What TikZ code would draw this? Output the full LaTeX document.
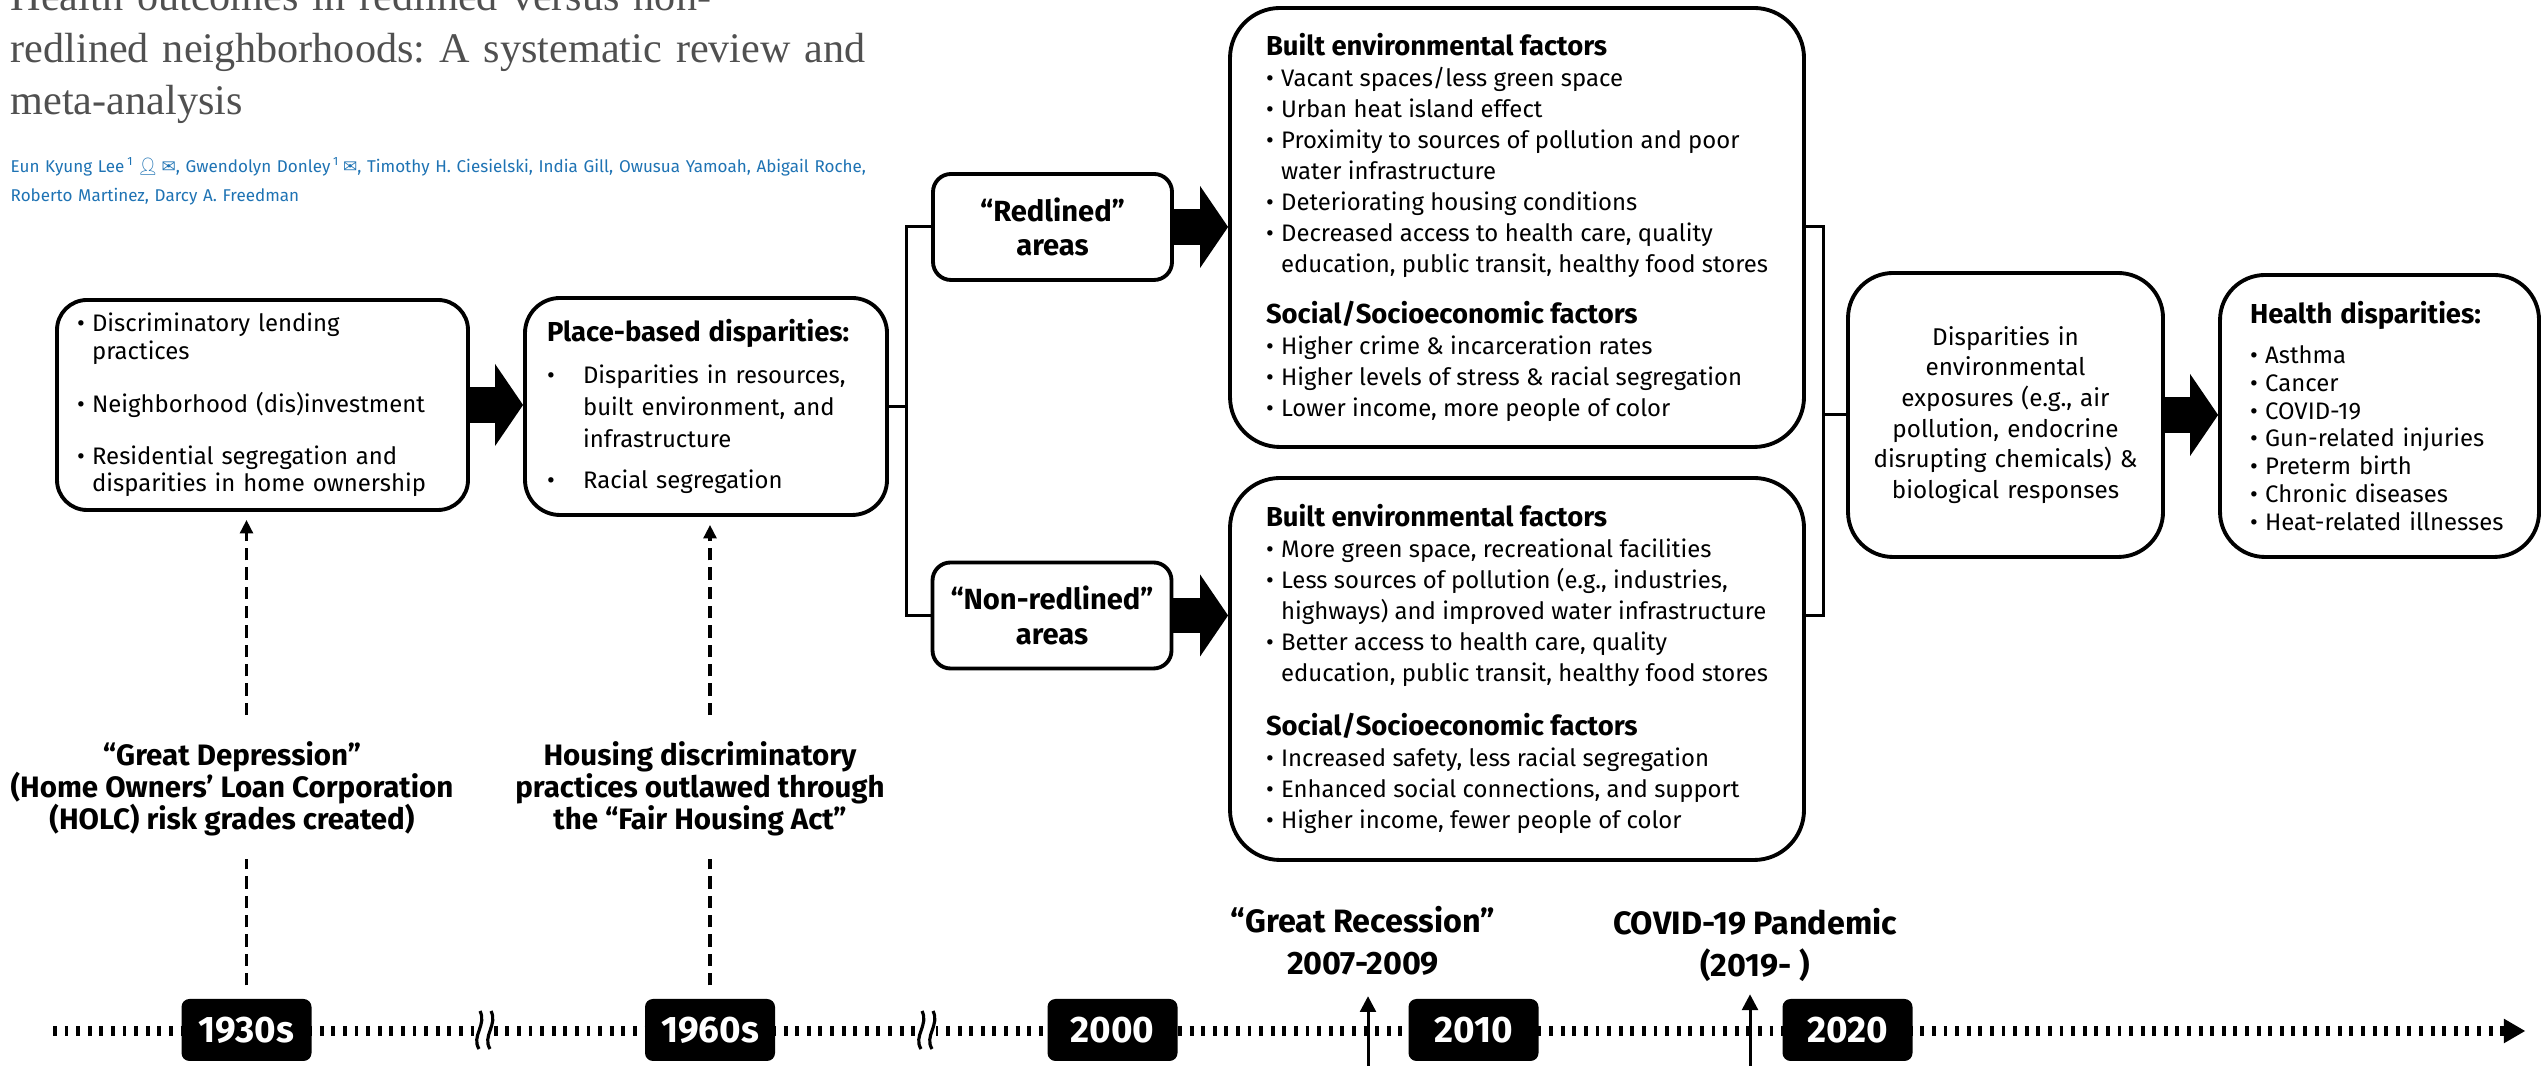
\documentclass[tikz,border=0pt]{standalone}
\usepackage{fontspec}
\setmainfont{Fira Sans}
\newfontfamily\titlefont{Liberation Serif}
\newfontfamily\symfont{DejaVu Sans}
\newfontfamily\emojifont{Noto Emoji}
\usetikzlibrary{arrows.meta}
\frenchspacing

\definecolor{titlegrey}{RGB}{80,80,80}
\definecolor{authorblue}{RGB}{30,115,180}

% bullet and hanging indent
\newcommand{\bu}[1][4.3pt]{\makebox[#1][l]{\textbullet}}
\newcommand{\hi}[1][4.3pt]{\hspace*{#1}}
\newcommand{\hd}[1]{{\fontsize{7.8}{8.8}\selectfont\bfseries #1}}

\begin{document}
\begin{tikzpicture}[
    every node/.style={inner sep=0pt},
    box/.style={draw, line width=1.1pt, rounded corners=#1, align=left,
      font=\fontsize{6.8}{8.8}\selectfont},
    box/.default=0.3cm,
    areabox/.style={draw, line width=1.1pt, rounded corners=0.18cm, align=center,
      minimum width=2.39cm, minimum height=1.06cm,
      font=\fontsize{8.3}{9.9}\selectfont\bfseries},
    yearbox/.style={fill=black, rounded corners=0.08cm, minimum width=1.3cm,
      minimum height=0.62cm, text=white, font=\fontsize{10.5}{12}\selectfont\bfseries},
    event/.style={align=center, font=\fontsize{8.4}{9.1}\selectfont\bfseries},
    recent/.style={align=center, font=\fontsize{9.2}{11.9}\selectfont\bfseries},
    link/.style={line width=0.85pt},
    blockarrow/.style={line width=10pt, -{Triangle[length=0.28cm,width=0.82cm,line width=0pt]}},
    dashline/.style={line width=0.9pt, dash pattern=on 3.5pt off 2pt},
    dasharrow/.style={dashline, -{Triangle[length=3.8pt,width=3.6pt]}},
    uparrow/.style={line width=0.85pt, -{Triangle[length=4.5pt,width=4.5pt]}},
    timeline/.style={line width=2.6pt, dash pattern=on 1.1pt off 2.2pt,
      -{Triangle[length=6pt,width=7pt,line width=0pt]}},
    timebreak/.pic={
      \fill[white] (-0.1,-0.12) rectangle (0.1,0.12);
      \draw[line width=0.9pt] (-0.05,-0.19) .. controls (-0.13,-0.06) and (0.03,0.05) .. (-0.04,0.19);
      \draw[line width=0.9pt] (0.06,-0.19) .. controls (-0.02,-0.06) and (0.14,0.05) .. (0.07,0.19);
    }
  ]
  \useasboundingbox (0,0) rectangle (25.47,10.66);
  \fill[white] (0,0) rectangle (25.47,10.66);

  % heading of the paper
  \node[anchor=base west, text width=12cm, align=left, text=titlegrey,
    font=\fontsize{12}{14.75}\titlefont] (title) at (0.10,10.55)
    {Health outcomes in redlined versus non-\\redlined neighborhoods: A systematic review and\\meta-analysis};
  \node[anchor=base west, text width=12cm, align=left, text=authorblue,
    font=\fontsize{4.85}{8.2}\selectfont] (authors) at (0.10,8.93)
    {Eun Kyung Lee\,\textsuperscript{1}\,{\emojifont 👤}\,{\symfont ✉}, Gwendolyn Donley\,\textsuperscript{1}\,{\symfont ✉}, Timothy H. Ciesielski, India Gill, Owusua Yamoah, Abigail Roche,\\Roberto Martinez, Darcy A. Freedman};

  % timeline
  \coordinate (tstart) at (0.53,0.35);
  \coordinate (tend) at (25.25,0.35);
  \draw[timeline] (tstart) -- (tend);
  \node[yearbox] (y1930) at (2.465,0.36) {1930s};
  \node[yearbox] (y1960) at (7.10,0.36) {1960s};
  \node[yearbox] (y2000) at (11.125,0.36) {2000};
  \node[yearbox] (y2010) at (14.735,0.36) {2010};
  \node[yearbox] (y2020) at (18.475,0.36) {2020};
  \pic at (4.84,0.36) {timebreak};
  \pic at (9.26,0.36) {timebreak};

  % events
  \node[event] (dep) at (2.32,2.77) {“Great Depression”\\(Home Owners’ Loan Corporation\\(HOLC) risk grades created)};
  \node[event] (fha) at (7.00,2.77) {Housing discriminatory\\practices outlawed through\\the “Fair Housing Act”};
  \node[recent] (rec) at (13.63,1.25) {“Great Recession”\\2007-2009};
  \node[recent] (cov) at (17.55,1.21) {COVID-19 Pandemic\\(2019- )};
  \coordinate (recfoot) at (13.68,0);
  \coordinate (covfoot) at (17.50,0);
  \draw[uparrow, shorten >=0.2cm] (recfoot) -- (recfoot |- rec.south);
  \draw[uparrow, shorten >=0.12cm] (covfoot) -- (covfoot |- cov.south);

  % boxes
  \node[box=0.3cm, minimum width=4.11cm, minimum height=2.10cm, text width=3.71cm,
    inner xsep=0.2cm, font=\fontsize{6.8}{6.6}\selectfont] (disc) at (2.625,6.61)
    {\bu Discriminatory lending\\\hi practices\\[7pt]\bu Neighborhood (dis)investment\\[7pt]\bu Residential segregation and\\\hi disparities in home ownership};
  \node[box=0.35cm, minimum height=2.17cm, text width=3.18cm, inner xsep=0.22cm,
    font=\fontsize{6.8}{9.2}\selectfont] (place) at (7.06,6.595)
    {\hd{Place-based disparities:}\\[2.7pt]\bu[8pt] Disparities in resources,\\\hi[8pt] built environment, and\\\hi[8pt] infrastructure\\[2.5pt]\bu[8pt] Racial segregation};
  \node[areabox] (red) at (10.525,8.39) {“Redlined”\\areas};
  \node[areabox] (nonred) at (10.52,4.505) {“Non-redlined”\\areas};
  \node[box=0.5cm, minimum width=5.74cm, minimum height=4.39cm, inner xsep=0.25cm] (built) at (15.17,8.385)
    {\hd{Built environmental factors}\\
     \bu Vacant spaces/less green space\\
     \bu Urban heat island effect\\
     \bu Proximity to sources of pollution and poor\\
     \hi water infrastructure\\
     \bu Deteriorating housing conditions\\
     \bu Decreased access to health care, quality\\
     \hi education, public transit, healthy food stores\\[5.7pt]
     \hd{Social/Socioeconomic factors}\\
     \bu Higher crime \& incarceration rates\\
     \bu Higher levels of stress \& racial segregation\\
     \bu Lower income, more people of color};
  \node[box=0.5cm, minimum width=5.74cm, minimum height=3.82cm, inner xsep=0.25cm] (unbuilt) at (15.17,3.97)
    {\hd{Built environmental factors}\\
     \bu More green space, recreational facilities\\
     \bu Less sources of pollution (e.g., industries,\\
     \hi highways) and improved water infrastructure\\
     \bu Better access to health care, quality\\
     \hi education, public transit, healthy food stores\\[6.5pt]
     \hd{Social/Socioeconomic factors}\\
     \bu Increased safety, less racial segregation\\
     \bu Enhanced social connections, and support\\
     \bu Higher income, fewer people of color};
  \node[box=0.45cm, minimum height=2.84cm, text width=2.85cm, inner xsep=0.15cm,
    align=center, font=\fontsize{6.9}{8.7}\selectfont] (envexp) at (20.055,6.51)
    {Disparities in\\environmental\\exposures (e.g., air\\pollution, endocrine\\disrupting chemicals) \&\\biological responses};
  \node[box=0.45cm, minimum height=2.82cm, text width=2.59cm, inner xsep=0.30cm,
    font=\fontsize{6.8}{7.9}\selectfont] (health) at (23.795,6.50)
    {\hd{Health disparities:}\\[3.4pt]
     \bu Asthma\\ \bu Cancer\\ \bu COVID-19\\ \bu Gun-related injuries\\
     \bu Preterm birth\\ \bu Chronic diseases\\ \bu Heat-related illnesses};

  % connectors
  \draw[blockarrow] (disc.east) -- (disc.east -| place.west);
  \draw[link] (red.west) -- ++(-0.25,0) coordinate (lsplit) |- (nonred.west);
  \draw[link] (place.east) -- (place.east -| lsplit);
  \draw[blockarrow] (red.east) -- (red.east -| built.west);
  \draw[blockarrow] (nonred.east) -- (nonred.east -| unbuilt.west);
  \draw[link] (red.east -| built.east) -- ++(0.18,0) coordinate (rsplit) |- (nonred.east -| unbuilt.east);
  \draw[link] (rsplit |- envexp.west) -- (envexp.west);
  \draw[blockarrow] (envexp.east) -- (envexp.east -| health.west);

  % events to boxes
  \draw[dasharrow, shorten <=0.26cm, shorten >=0.08cm] (dep.north -| y1930) -- (disc.south -| y1930);
  \draw[dashline, shorten <=0.13cm, shorten >=0.22cm] (y1930.north) -- (dep.south -| y1930);
  \draw[dasharrow, shorten <=0.26cm, shorten >=0.08cm] (fha.north -| y1960) -- (place.south -| y1960);
  \draw[dashline, shorten <=0.13cm, shorten >=0.22cm] (y1960.north) -- (fha.south -| y1960);
\end{tikzpicture}
\end{document}
